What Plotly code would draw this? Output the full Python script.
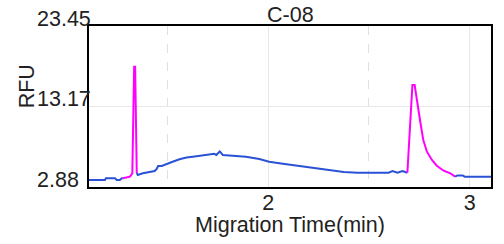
import plotly.graph_objects as go

# ---- data ----
blue1_x = [1.111, 1.190, 1.195, 1.240, 1.249, 1.264, 1.274, 1.279]
blue1_y = [3.77, 3.77, 3.99, 3.99, 3.77, 3.77, 3.99, 3.99]

mag1_x = [1.279, 1.300, 1.314, 1.326, 1.335, 1.340, 1.348]
mag1_y = [3.99, 4.10, 4.20, 4.63, 18.25, 18.25, 4.67]

blue2_x = [1.348, 1.353, 1.378, 1.412, 1.437, 1.447, 1.454, 1.472, 1.495, 1.526,
           1.560, 1.595, 1.635, 1.674, 1.709, 1.733, 1.743, 1.760, 1.775, 1.822,
           1.890, 1.956, 2.005, 2.064, 2.153, 2.212, 2.296, 2.375, 2.444, 2.598,
           2.617, 2.642, 2.667, 2.691]
blue2_y = [4.67, 4.41, 4.63, 4.83, 4.92, 5.18, 5.56, 5.56, 5.82, 6.11,
           6.42, 6.65, 6.78, 6.90, 7.03, 7.12, 6.97, 7.42, 6.97, 6.88,
           6.75, 6.46, 6.11, 5.88, 5.56, 5.31, 4.99, 4.80, 4.71, 4.71,
           4.92, 4.71, 4.92, 4.71]

mag2_x = [2.691, 2.700, 2.716, 2.727, 2.740, 2.756, 2.770, 2.788, 2.813, 2.837,
          2.871, 2.904, 2.928]
mag2_y = [4.71, 8.50, 15.91, 15.91, 13.50, 11.06, 8.88, 7.39, 6.33, 5.60,
          4.96, 4.63, 4.20]

blue3_x = [2.928, 2.940, 2.966, 2.975, 3.106]
blue3_y = [4.20, 4.36, 4.36, 4.20, 4.20]

y_ticks = [2.88, 13.17, 23.45]
y_tick_labels = ["2.88", "13.17", "23.45"]
x_ticks = [2, 3]
x_tick_labels = ["2", "3"]

title_text = "C-08"
x_title = "Migration Time(min)"
y_title = "RFU"

BLUE = "#2a52d6"
MAG = "#ff00ff"
FONT = "Liberation Sans, Arial, sans-serif"
TXT = "#222222"
FS = 21.5

fig = go.Figure()
for xs, ys, c in [(blue1_x, blue1_y, BLUE), (mag1_x, mag1_y, MAG),
                  (blue2_x, blue2_y, BLUE), (mag2_x, mag2_y, MAG),
                  (blue3_x, blue3_y, BLUE)]:
    fig.add_trace(go.Scatter(x=xs, y=ys, mode="lines",
                             line=dict(color=c, width=2), showlegend=False,
                             hoverinfo="skip"))

W, H = 504, 244
L, R, T, B = 89, 11, 26, 57
PW = W - L - R
PH = H - T - B

fig.update_layout(
    width=W, height=H,
    margin=dict(l=L, r=R, t=T, b=B, pad=0),
    paper_bgcolor="white", plot_bgcolor="white",
    font=dict(family=FONT, size=FS, color=TXT),
    xaxis=dict(range=[1.111, 3.106], tickvals=x_ticks, ticktext=x_tick_labels,
               showgrid=True, gridcolor="#e8e8e8", gridwidth=1,
               minor=dict(dtick=0.5, tick0=0, showgrid=True, gridcolor="#e0e0e0",
                          griddash="dash", gridwidth=1),
               showline=True, linecolor="black", linewidth=2, mirror=True,
               ticks="", zeroline=False, ticklabelstandoff=-5,
               tickfont=dict(size=FS, color=TXT, family=FONT)),
    yaxis=dict(range=[2.88, 23.45], tickvals=y_ticks, showticklabels=False,
               showgrid=True, gridcolor="#e8e8e8", gridwidth=1,
               showline=True, linecolor="black", linewidth=2, mirror=True,
               ticks="", zeroline=False),
)

annotations = []
for v, t in zip(y_ticks, y_tick_labels):
    annotations.append(dict(x=(35 - L) / PW, xref="paper", y=v, yref="y",
                            text=t, showarrow=False, xanchor="left", yanchor="bottom",
                            yshift=-7, font=dict(size=FS, color=TXT, family=FONT)))
annotations.append(dict(x=0.5, xref="paper", y=1, yref="paper", text=title_text,
                        showarrow=False, xanchor="center", yanchor="bottom", yshift=-3,
                        font=dict(size=FS, color=TXT, family=FONT)))
annotations.append(dict(x=0.5, xref="paper", y=0, yref="paper", text=x_title,
                        showarrow=False, xanchor="center", yanchor="top", yshift=-24,
                        font=dict(size=FS, color=TXT, family=FONT)))
annotations.append(dict(x=(27 - L) / PW, xref="paper", y=(187 - 86) / PH,
                        yref="paper", text=y_title, showarrow=False, textangle=-90,
                        xanchor="center", yanchor="middle",
                        font=dict(size=FS, color=TXT, family=FONT)))
fig.update_layout(annotations=annotations)

fig.write_html("out.html", config={"displayModeBar": False},
               post_script="document.body.style.margin='0';document.body.style.overflow='hidden';")
